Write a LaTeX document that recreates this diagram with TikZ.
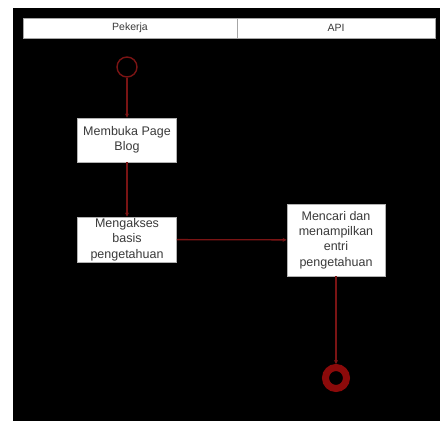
\documentclass[tikz,border=0pt]{standalone}
\usepackage{fontspec}
\setmainfont{Liberation Sans}
\usetikzlibrary{arrows.meta}
\definecolor{wire}{HTML}{7A1414}
\definecolor{ring}{HTML}{8B0A0A}
\definecolor{txt}{HTML}{3A3A3A}
\tikzset{
  act/.style={draw=gray!60, fill=white, line width=0.8pt, inner sep=0pt, align=center,
              text=txt, font=\fontsize{12.5}{15.4}\selectfont},
  lanehead/.style={draw=gray!70, fill=white, line width=0.8pt, inner sep=0pt,
              text=txt, font=\fontsize{10.5}{12}\selectfont},
  flow/.style={draw=wire, line width=1.3pt, -{Stealth[length=4pt,width=4pt]}},
  startnode/.style={circle, draw=wire, line width=1.4pt, minimum size=20pt, inner sep=0pt},
  endring/.style={circle, draw=ring, line width=7pt, minimum size=21pt, inner sep=0pt}
}
\begin{document}
\begin{tikzpicture}[x=1pt,y=-1pt]
\useasboundingbox (0,0) rectangle (440,421);
\fill[white] (0,0) rectangle (440,421);
\fill[black] (13,8) rectangle (440,421);
% swimlane headers
\node[lanehead, minimum width=214pt, minimum height=20pt] (h1) at (130,28) {Pekerja};
\node[lanehead, minimum width=198pt, minimum height=20pt] (h2) at (336,28) {API};
% nodes
\node[startnode] (s) at (127,67) {};
\node[act, minimum width=99pt, minimum height=44pt] (b1) at (127,140) {Membuka Page\\Blog};
\node[act, minimum width=99pt, minimum height=45pt] (b2) at (127,239.5) {Mengakses\\basis\\pengetahuan};
\node[act, minimum width=98pt, minimum height=72pt] (b3) at (336,240) {Mencari dan\\menampilkan\\entri\\pengetahuan};
\node[endring] (e) at (336,378) {};
% connectors
\draw[flow] (s) -- (b1);
\draw[flow] (b1) -- (b2);
\draw[flow] (b2) -- (b3);
\draw[flow] (b3) -- (e);
\end{tikzpicture}
\end{document}
